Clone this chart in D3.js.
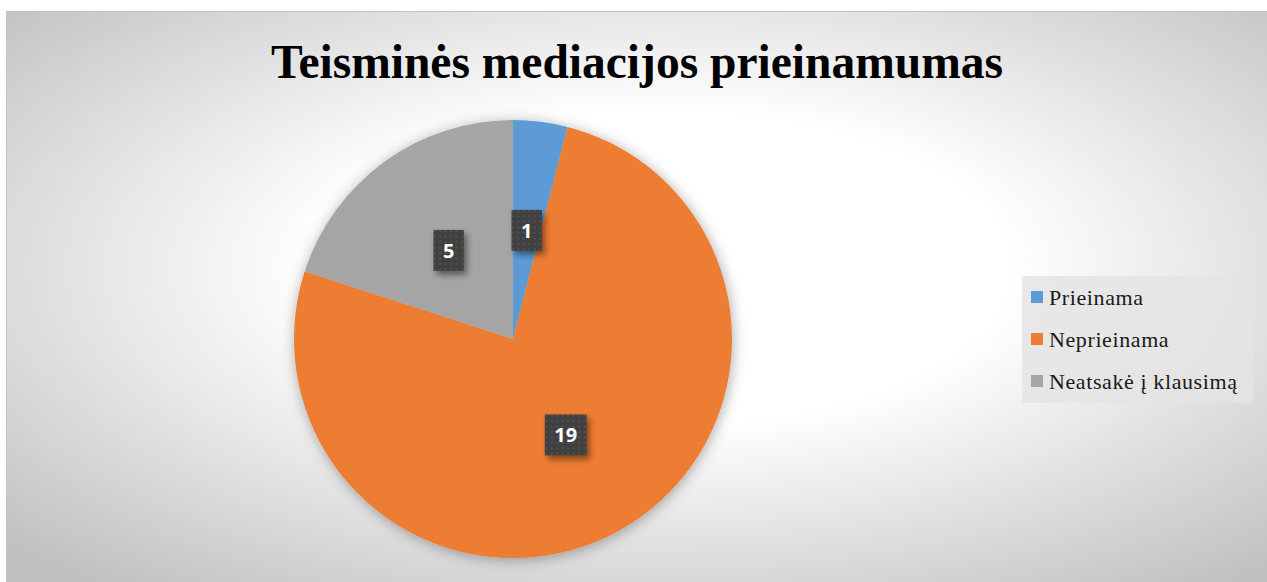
<!DOCTYPE html>
<html>
<head>
<meta charset="utf-8">
<title>Teisminės mediacijos prieinamumas</title>
<script src="https://d3js.org/d3.v7.min.js"></script>
<style>
  body { margin: 0; background: #fff; }
  svg { display: block; }
</style>
</head>
<body>
<svg width="1267" height="582"></svg>
<script>
var categories = ["Prieinama", "Neprieinama", "Neatsakė į klausimą"];
var values = [1, 19, 5];
var colors = ["#5B9BD5", "#ED7D31", "#A5A5A5"];
var title = "Teisminės mediacijos prieinamumas";

var svg = d3.select("svg"),
    width = +svg.attr("width"),
    height = +svg.attr("height");

var defs = svg.append("defs");

// background radial gradient
var grad = defs.append("radialGradient")
    .attr("id", "bg")
    .attr("cx", 0.52).attr("cy", 0.45).attr("r", 0.72)
    .attr("fx", 0.52).attr("fy", 0.45);
grad.append("stop").attr("offset", 0).attr("stop-color", "#ffffff");
grad.append("stop").attr("offset", 0.38).attr("stop-color", "#ffffff");
grad.append("stop").attr("offset", 1).attr("stop-color", "#bfbfbf");

// soft shadow for pie
var pf = defs.append("filter").attr("id", "pieShadow")
    .attr("x", "-20%").attr("y", "-20%").attr("width", "140%").attr("height", "140%");
pf.append("feDropShadow").attr("dx", 1).attr("dy", 2)
    .attr("stdDeviation", 7).attr("flood-color", "#000").attr("flood-opacity", 0.33);

// shadow for label boxes
var lf = defs.append("filter").attr("id", "lblShadow")
    .attr("x", "-50%").attr("y", "-50%").attr("width", "200%").attr("height", "200%");
lf.append("feDropShadow").attr("dx", 3).attr("dy", 4)
    .attr("stdDeviation", 3).attr("flood-color", "#000").attr("flood-opacity", 0.45);

// dotted texture for label boxes
var pat = defs.append("pattern").attr("id", "dots")
    .attr("patternUnits", "userSpaceOnUse")
    .attr("width", 5.5).attr("height", 5.5);
pat.append("rect").attr("width", 5.5).attr("height", 5.5).attr("fill", "#404040");
pat.append("rect").attr("x", 1.5).attr("y", 1.5).attr("width", 2).attr("height", 2).attr("fill", "#525252");

// chart area
svg.append("rect")
    .attr("x", 6.5).attr("y", 11.5)
    .attr("width", width - 6).attr("height", height - 11)
    .attr("fill", "url(#bg)")
    .attr("stroke", "#c4c4c4")
    .attr("stroke-width", 1);

svg.append("text")
    .attr("x", 637)
    .attr("y", 78)
    .attr("text-anchor", "middle")
    .attr("font-family", "'Liberation Serif', 'Times New Roman', serif")
    .attr("font-weight", "bold")
    .attr("font-size", "47.5px")
    .attr("fill", "#000")
    .text(title);

// pie
var cx = 513, cy = 339, radius = 219;

var pie = d3.pie().sort(null).value(function(d) { return d; });
var arc = d3.arc().innerRadius(0).outerRadius(radius);
var arcs = pie(values);

var g = svg.append("g").attr("transform", "translate(" + cx + "," + cy + ")");

g.append("g")
    .attr("filter", "url(#pieShadow)")
    .selectAll("path")
    .data(arcs)
    .enter().append("path")
    .attr("d", arc)
    .attr("fill", function(d, i) { return colors[i]; });

// data labels
var labels = g.selectAll(".lbl")
    .data(arcs)
    .enter().append("g")
    .attr("class", "lbl")
    .attr("transform", function(d) {
        var c = arc.centroid(d);
        return "translate(" + c[0] + "," + c[1] + ")";
    });

labels.each(function(d) {
    var sel = d3.select(this);
    var t = sel.append("text")
        .attr("text-anchor", "middle")
        .attr("dy", "0.36em")
        .attr("font-family", "'Open Sans', 'Noto Sans', sans-serif")
        .attr("font-weight", "bold")
        .attr("font-size", "20px")
        .attr("fill", "#fff")
        .text(d.data);
    var w = t.node().getComputedTextLength() + 19;
    sel.insert("rect", "text")
        .attr("x", -w / 2).attr("y", -20.5)
        .attr("width", w).attr("height", 41)
        .attr("fill", "url(#dots)")
        .attr("filter", "url(#lblShadow)");
});

// legend
var legend = svg.append("g").attr("transform", "translate(1022,276)");
legend.append("rect")
    .attr("width", 231).attr("height", 127)
    .attr("fill", "#e4e4e4")
    .attr("opacity", 0.85);

var items = legend.selectAll(".item")
    .data(categories)
    .enter().append("g")
    .attr("class", "item")
    .attr("transform", function(d, i) { return "translate(9," + (15 + i * 42) + ")"; });

items.append("rect")
    .attr("width", 12).attr("height", 12)
    .attr("fill", function(d, i) { return colors[i]; });

items.append("text")
    .attr("x", 18)
    .attr("y", 13.5)
    .attr("font-family", "'Liberation Serif', 'Times New Roman', serif")
    .attr("font-size", "22px")
    .attr("letter-spacing", "0.6px")
    .attr("fill", "#1a1a1a")
    .text(function(d) { return d; });
</script>
</body>
</html>
